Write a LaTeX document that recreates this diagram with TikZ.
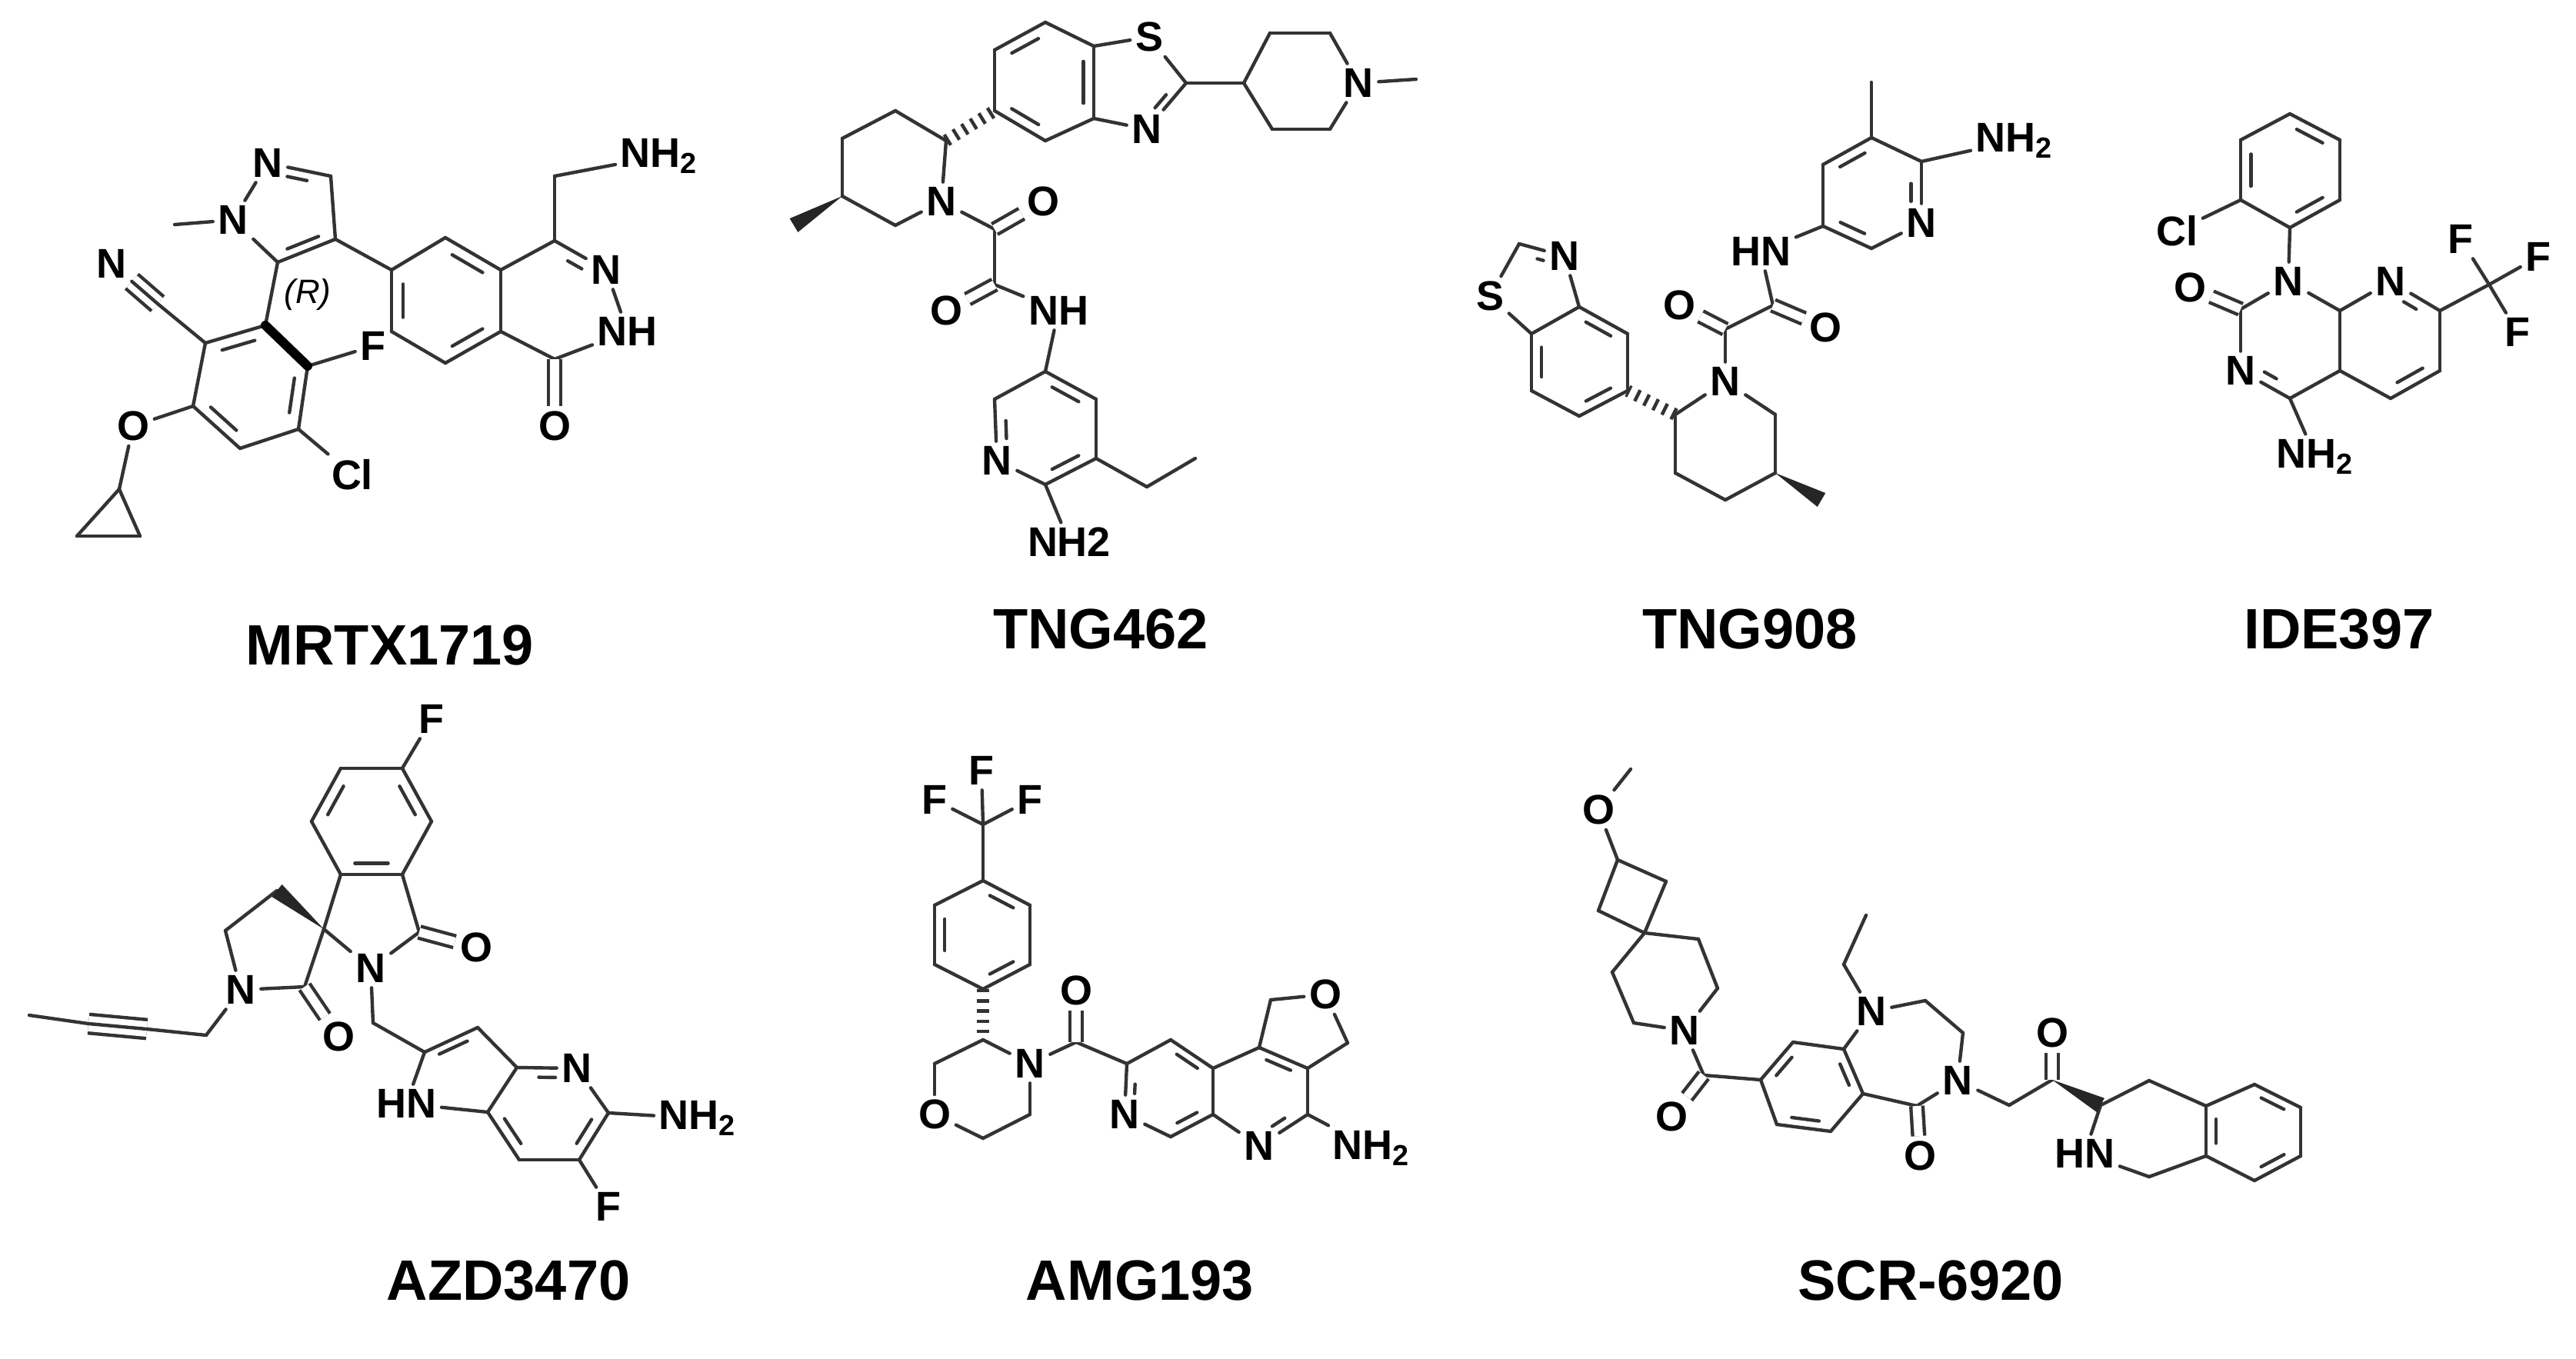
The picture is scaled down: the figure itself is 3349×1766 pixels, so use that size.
\documentclass[tikz,border=0pt]{standalone}
\usepackage{fontspec}
\setmainfont{Liberation Sans}
\usetikzlibrary{calc}
\newcommand\afont{\bfseries\fontsize{13.5}{14}\selectfont}
\newcommand\tfont{\bfseries\fontsize{18.5}{20}\selectfont}
\tikzset{
 bond/.style={line width=1.1pt, draw=black!80, line cap=round},
 dbl/.style={bond, double=white, double distance=2.8pt, line cap=butt},
 atm/.style={font=\afont, inner sep=1.5pt, text=black},
 ttl/.style={font=\tfont, text=black},
 hashb/.style={draw=black!80, line width=4pt, dash pattern=on 1.1pt off 2.2pt},
 boldb/.style={draw=black, line width=3pt, line cap=round}
}
\newcommand\idb[4][2.5pt]{\draw[bond, shorten <=#1, shorten >=#1] ($(#2)!0.21!(#4)$) -- ($(#3)!0.21!(#4)$);}
\newcommand\wedgeb[2]{\fill[black!85] (#1) -- ($(#2)!2.6pt!90:(#1)$) -- ($(#2)!2.6pt!-90:(#1)$) -- cycle;}
\newcommand\triple[2]{\draw[bond, double=white, double distance=5pt, line cap=butt] (#1) -- (#2); \draw[bond] (#1) -- (#2);}
\newcommand\bonds[1]{\foreach \a/\b in {#1} \draw[bond] (\a) -- (\b);}
\newcommand\pts[1]{\foreach \n/\x/\y in {#1} \coordinate (\n) at (\x,\y);}
\newcommand\labs[1]{\foreach \n/\x/\y/\t in {#1} \node[atm] (\n) at (\x,\y) {\t};}
\begin{document}
\begin{tikzpicture}[x=0.25pt,y=-0.25pt]
\useasboundingbox[fill=white] (0,0) rectangle (3349,1766);

% ================= MRTX1719 =================
\pts{mC3/430/229, mC4/436/311, mC5/361,341, mMe/227/292, mpz/376/276}
\pts{mA1/345/423, mA2/400/476, mA3/388/558, mA4/312/583, mA5/251/528, mA6/267/446, mAc/325/503}
\pts{mCN/205/395, cp1/155/636, cp2/100/697, cp3/182/697}
\pts{mB1/579/309, mB2/651/351, mB3/651/431, mB4/579/472, mB5/509/431, mB6/509/351, mBc/580/391}
\pts{mC1/721/313, mCO/721/467, mCc/720/391, mCH/721/229}
\coordinate (mC5) at (361,341);
\labs{mN2/348/212/N, mN1/303/286/N, mF/485/450/F, mCl/458/617/Cl, mNn/145/343/N, mO/173/554/O, mNr/788/351/N, mOo/721/554/O}
\node[atm, anchor=west] (mNH) at (770,431) {NH};
\node[atm, anchor=west] (mNH2) at (800,203) {NH\textsubscript{2}};
\node[font=\itshape\fontsize{11}{12}\selectfont] (mR) at (400,383) {(R)};
\bonds{mN1/mN2, mN2/mC3, mC3/mC4, mC4/mC5, mC5/mN1, mN1/mMe, mC5/mA1, mA2/mA3, mA3/mA4, mA4/mA5, mA5/mA6, mA6/mA1, mA2/mF, mA3/mCl, mA6/mCN, mA5/mO, mO/cp1, cp1/cp2, cp2/cp3, cp3/cp1, mC4/mB6, mB1/mB2, mB2/mB3, mB3/mB4, mB4/mB5, mB5/mB6, mB6/mB1, mB2/mC1, mC1/mNr, mNr/mNH, mNH/mCO, mCO/mB3, mC1/mCH, mCH/mNH2}
\draw[boldb] (mA1) -- (mA2);
\idb[5pt]{mN2}{mC3}{mpz} \idb{mC4}{mC5}{mpz}
\idb{mA6}{mA1}{mAc} \idb{mA2}{mA3}{mAc} \idb{mA4}{mA5}{mAc}
\idb{mB1}{mB2}{mBc} \idb{mB5}{mB6}{mBc} \idb{mB3}{mB4}{mBc}
\idb[5pt]{mC1}{mNr}{mCc}
\triple{mCN}{mNn}
\draw[dbl] (mCO) -- (mOo);
\node[ttl] (tMRTX) at (507,839) {MRTX1719};

% ================= TNG462 =================
\pts{tT1/1359/29, tT2/1422/60, tT3/1422/154, tT4/1359/183, tT5/1293/144, tT6/1293/65, tTc/1358/107, tC2/1542/108, tthz/1480/108}
\pts{tP1/1617/108, tP2/1651/43, tP3/1729/43, tP5/1729/168, tP6/1654/168, tPMe/1841/103}
\pts{tQ2/1230/183, tQ3/1164/144, tQ4/1095/180, tQ5/1095/255, tQ6/1164/293, tQMe/1032/293}
\pts{tK1/1293/298, tK2/1293/370}
\pts{tR1/1359/483, tR2/1293/519, tR4/1359/630, tR5/1425/596, tR6/1425/519, tRc/1359/557, tE1/1491/633, tE2/1554/596}
\labs{tS/1494/48/S, tN/1491/168/N, tPN/1766/108/N, tQN/1224/262/N, tO1/1356/262/O, tO2/1230/404/O, tNH/1376/404/NH, tRN/1296/599/N, tNH2/1390/705/NH2}
\bonds{tT1/tT2, tT2/tT3, tT3/tT4, tT4/tT5, tT5/tT6, tT6/tT1, tT2/tS, tS/tC2, tN/tT3, tC2/tP1, tP1/tP2, tP2/tP3, tP3/tPN, tPN/tP5, tP5/tP6, tP6/tP1, tPN/tPMe, tQ2/tQ3, tQ3/tQ4, tQ4/tQ5, tQ5/tQ6, tQ6/tQN, tQN/tQ2, tQN/tK1, tK1/tK2, tK2/tNH, tNH/tR1, tR1/tR2, tR2/tRN, tRN/tR4, tR4/tR5, tR5/tR6, tR6/tR1, tR5/tE1, tE1/tE2, tR4/tNH2}
\draw[bond] (tC2) -- (tN);
\idb{tT6}{tT1}{tTc} \idb{tT2}{tT3}{tTc} \idb{tT4}{tT5}{tTc}
\idb[5pt]{tC2}{tN}{tthz}
\idb{tR1}{tR6}{tRc} \idb[5pt]{tR2}{tRN}{tRc} \idb{tR4}{tR5}{tRc}
\draw[hashb] (tQ2) -- (tT5);
\wedgeb{tQ5}{tQMe}
\draw[dbl] (tK1) -- (tO1); \draw[dbl] (tK2) -- (tO2);
\node[ttl] (tTNG462) at (1431,818) {TNG462};

% ================= TNG908 =================
\pts{uU1/2433/179, uMe/2433/107, uU2/2498/210, uU4/2433/323, uU5/2370/294, uU6/2370/214, uUc/2434/251}
\pts{uK1/2305/397, uK2/2243/428}
\pts{uV6/2308/539, uV5/2308/615, uVMe/2368/650, uV4/2243/650, uV3/2178/615, uV2/2178/539}
\pts{uW1/2116/434, uW2/2116/508, uW3/2053/541, uW4/1991/508, uW5/1991/434, uW6/2053/399, uWc/2053/470, uCH/1975/317, uthz/1995/385}
\labs{uN/2498/290/N, uHN/2289/327/HN, uO1/2373/426/O, uO2/2183/397/O, uPN/2243/496/N, uTN/2034/333/N, uS/1937/385/S}
\node[atm, anchor=west] (uNH2) at (2562,183) {NH\textsubscript{2}};
\bonds{uU1/uMe, uU1/uU2, uU2/uN, uN/uU4, uU4/uU5, uU5/uU6, uU6/uU1, uU2/uNH2, uU5/uHN, uHN/uK1, uK1/uK2, uK2/uPN, uPN/uV6, uV6/uV5, uV5/uV4, uV4/uV3, uV3/uV2, uV2/uPN, uW1/uW2, uW2/uW3, uW3/uW4, uW4/uW5, uW5/uW6, uW6/uW1, uW6/uTN, uTN/uCH, uCH/uS, uS/uW5}
\idb{uU6}{uU1}{uUc} \idb[5pt]{uU2}{uN}{uUc} \idb{uU4}{uU5}{uUc}
\idb{uW6}{uW1}{uWc} \idb{uW2}{uW3}{uWc} \idb{uW4}{uW5}{uWc}
\idb[5pt]{uCH}{uTN}{uthz}
\draw[dbl] (uK1) -- (uO1); \draw[dbl] (uK2) -- (uO2);
\draw[hashb] (uV2) -- (uW2);
\wedgeb{uV5}{uVMe}
\node[ttl] (tTNG908) at (2275,818) {TNG908};

% ================= IDE397 =================
\pts{iH1/2977/148, iH2/3042/182, iH3/3042/260, iH4/2977/296, iH5/2913/260, iH6/2913/182, iHc/2977/222}
\pts{iC2/2913/402, iC4/2977/518, iC4a/3042/482, iC8a/3042/404, iC7/3172/404, iC6/3172/482, iC5/3108/518, iCF/3236/370, iRc1/2977/443, iRc2/3107/443}
\labs{iCl/2830/300/Cl, iN1/2975/366/N, iO/2847/374/O, iN3/2913/482/N, iN8/3108/366/N, iF1/3199/311/F, iF2/3300/334/F, iF3/3273/432/F}
\node[atm, anchor=west] (iNH2) at (2953,594) {NH\textsubscript{2}};
\bonds{iH1/iH2, iH2/iH3, iH3/iH4, iH4/iH5, iH5/iH6, iH6/iH1, iH5/iCl, iH4/iN1, iN1/iC2, iC2/iN3, iN3/iC4, iC4/iC4a, iC4a/iC8a, iC8a/iN1, iC8a/iN8, iN8/iC7, iC7/iC6, iC6/iC5, iC5/iC4a, iC7/iCF, iCF/iF1, iCF/iF2, iCF/iF3, iC4/iNH2}
\idb{iH1}{iH2}{iHc} \idb{iH3}{iH4}{iHc} \idb{iH5}{iH6}{iHc}
\idb[5pt]{iN3}{iC4}{iRc1} \idb[5pt]{iN8}{iC7}{iRc2} \idb{iC6}{iC5}{iRc2}
\draw[dbl] (iC2) -- (iO);
\node[ttl] (tIDE) at (3041,818) {IDE397};

% ================= AZD3470 =================
\pts{zZ1/523/999, zZ2/443/999, zZ3/405/1068, zZ4/443/1137, zZ5/523/1137, zZ6/561/1068, zZc/483/1068}
\pts{zS/421/1208, zCc/545/1212, zY1/360/1158, zY2/293/1210, zY4/396/1283}
\pts{zL1/268/1346, zL2/191/1338, zL3/115/1331, zL4/38/1320, zM/485/1330}
\pts{zP2/552/1368, zP3/621/1336, zP3a/672/1388, zP5/791/1447, zP6/753/1508, zP7/675/1508, zP7a/634/1446, zPc1/600/1400, zPc2/712/1447}
\labs{zF/561/935/F, zO1/619/1232/O, zN/482/1259/N, zNp/313/1287/N, zO2/440/1348/O, zN4/750/1389/N, zF2/791/1569/F}
\node[atm, anchor=west] (zNH2) at (850,1454) {NH\textsubscript{2}};
\node[atm, anchor=east] (zHN) at (574,1435) {HN};
\bonds{zZ1/zZ2, zZ2/zZ3, zZ3/zZ4, zZ4/zZ5, zZ5/zZ6, zZ6/zZ1, zZ1/zF, zZ4/zS, zZ5/zCc, zCc/zN, zN/zS, zY1/zY2, zY2/zNp, zNp/zY4, zY4/zS, zNp/zL1, zL1/zL2, zL3/zL4, zN/zM, zM/zP2, zP2/zP3, zP3/zP3a, zP3a/zN4, zN4/zP5, zP5/zNH2, zP5/zP6, zP6/zF2, zP6/zP7, zP7/zP7a, zP7a/zP3a, zP7a/zHN, zHN/zP2}
\triple{zL2}{zL3}
\wedgeb{zS}{zY1}
\idb{zZ2}{zZ3}{zZc} \idb{zZ1}{zZ6}{zZc} \idb{zZ4}{zZ5}{zZc}
\idb{zP2}{zP3}{zPc1} \idb[5pt]{zP3a}{zN4}{zPc2} \idb{zP5}{zP6}{zPc2} \idb{zP7}{zP7a}{zPc2}
\draw[dbl] (zCc) -- (zO1); \draw[dbl] (zY4) -- (zO2);
\node[ttl] (tAZD) at (661,1665) {AZD3470};

% ================= AMG193 =================
\pts{gCF/1278/1072, gG1/1278/1145, gG2/1339/1177, gG3/1339/1254, gG4/1278/1286, gG5/1215/1254, gG6/1215/1177, gGc/1278/1215}
\pts{gM3/1278/1352, gM5/1339/1449, gM6/1278/1480, gM2/1215/1383, gK/1399/1355}
\pts{gA7/1465/1383, gA5/1522/1478, gA4a/1577/1449, gA8a/1577/1389, gA8/1522/1352, gAc/1520/1415}
\pts{gB9/1637/1362, gB9a/1700/1389, gB1/1700/1449, gBc/1638/1420, gF1/1652/1300, gF3/1752/1356}
\labs{gFa/1276/1002/F, gFb/1215/1040/F, gFc/1339/1040/F, gN/1339/1383/N, gO/1215/1449/O, gOk/1399/1288/O, gN6/1462/1449/N, gNb/1637/1490/N, gOf/1723/1293/O}
\node[atm, anchor=west] (gNH2) at (1726,1493) {NH\textsubscript{2}};
\bonds{gCF/gFa, gCF/gFb, gCF/gFc, gCF/gG1, gG1/gG2, gG2/gG3, gG3/gG4, gG4/gG5, gG5/gG6, gG6/gG1, gM3/gN, gN/gM5, gM5/gM6, gM6/gO, gO/gM2, gM2/gM3, gN/gK, gK/gA7, gA7/gN6, gN6/gA5, gA5/gA4a, gA4a/gA8a, gA8a/gA8, gA8/gA7, gA8a/gB9, gB9/gB9a, gB9a/gB1, gB1/gNb, gNb/gA4a, gB1/gNH2, gB9/gF1, gF1/gOf, gOf/gF3, gF3/gB9a}
\draw[hashb] (gG4) -- (gM3);
\idb{gG1}{gG2}{gGc} \idb{gG3}{gG4}{gGc} \idb{gG5}{gG6}{gGc}
\idb[5pt]{gA7}{gN6}{gAc} \idb{gA8}{gA8a}{gAc} \idb{gA5}{gA4a}{gAc}
\idb{gB9}{gB9a}{gBc} \idb[5pt]{gB1}{gNb}{gBc}
\draw[dbl] (gK) -- (gOk);
\node[ttl] (tAMG) at (1482,1665) {AMG193};

% ================= SCR-6920 =================
\pts{sMe/2120/1000, sCb1/2103/1118, sCb2/2166/1146, sSp/2138/1213, sCb4/2078/1184}
\pts{sPp2/2208/1221, sPp3/2233/1285, sPp5/2124/1330, sPp6/2096/1264, sK1/2215/1398}
\pts{sE1/2289/1404, sE2/2331/1355, sE3/2397/1364, sE4/2422/1422, sE5/2380/1471, sE6/2310/1462, sEc/2355/1413}
\pts{sD2/2503/1301, sD3/2552/1343, sD5/2492/1438, sEt1/2397/1254, sEt2/2426/1190}
\pts{sH1/2612/1437, sK2/2668/1404, sQ3/2731/1437, sQ4/2794/1405, sQ4a/2868/1438, sQb/2931/1410, sQc/2991/1440, sQd/2991/1503, sQe/2931/1535, sQ8a/2868/1503, sQc0/2930/1472, sQ1/2794/1530}
\labs{sO/2078/1053/O, sN/2190/1340/N, sO1/2173/1452/O, sN1/2433/1315/N, sN4/2545/1405/N, sO2/2496/1503/O, sO3/2668/1343/O, sHN/2710/1500/HN}
\bonds{sMe/sO, sO/sCb1, sCb1/sCb2, sCb2/sSp, sSp/sCb4, sCb4/sCb1, sSp/sPp2, sPp2/sPp3, sPp3/sN, sN/sPp5, sPp5/sPp6, sPp6/sSp, sN/sK1, sK1/sE1, sE1/sE2, sE2/sE3, sE3/sE4, sE4/sE5, sE5/sE6, sE6/sE1, sE3/sN1, sN1/sD2, sD2/sD3, sD3/sN4, sN4/sD5, sD5/sE4, sN1/sEt1, sEt1/sEt2, sN4/sH1, sH1/sK2, sQ3/sHN, sQ3/sQ4, sQ4/sQ4a, sQ4a/sQb, sQb/sQc, sQc/sQd, sQd/sQe, sQe/sQ8a, sQ8a/sQ4a, sQ8a/sQ1, sQ1/sHN}
\wedgeb{sK2}{sQ3}
\idb{sE1}{sE2}{sEc} \idb{sE3}{sE4}{sEc} \idb{sE5}{sE6}{sEc}
\idb{sQb}{sQc}{sQc0} \idb{sQd}{sQe}{sQc0} \idb{sQ4a}{sQ8a}{sQc0}
\draw[dbl] (sK1) -- (sO1); \draw[dbl] (sD5) -- (sO2); \draw[dbl] (sK2) -- (sO3);
\node[ttl] (tSCR) at (2510,1665) {SCR-6920};
\end{tikzpicture}
\end{document}
